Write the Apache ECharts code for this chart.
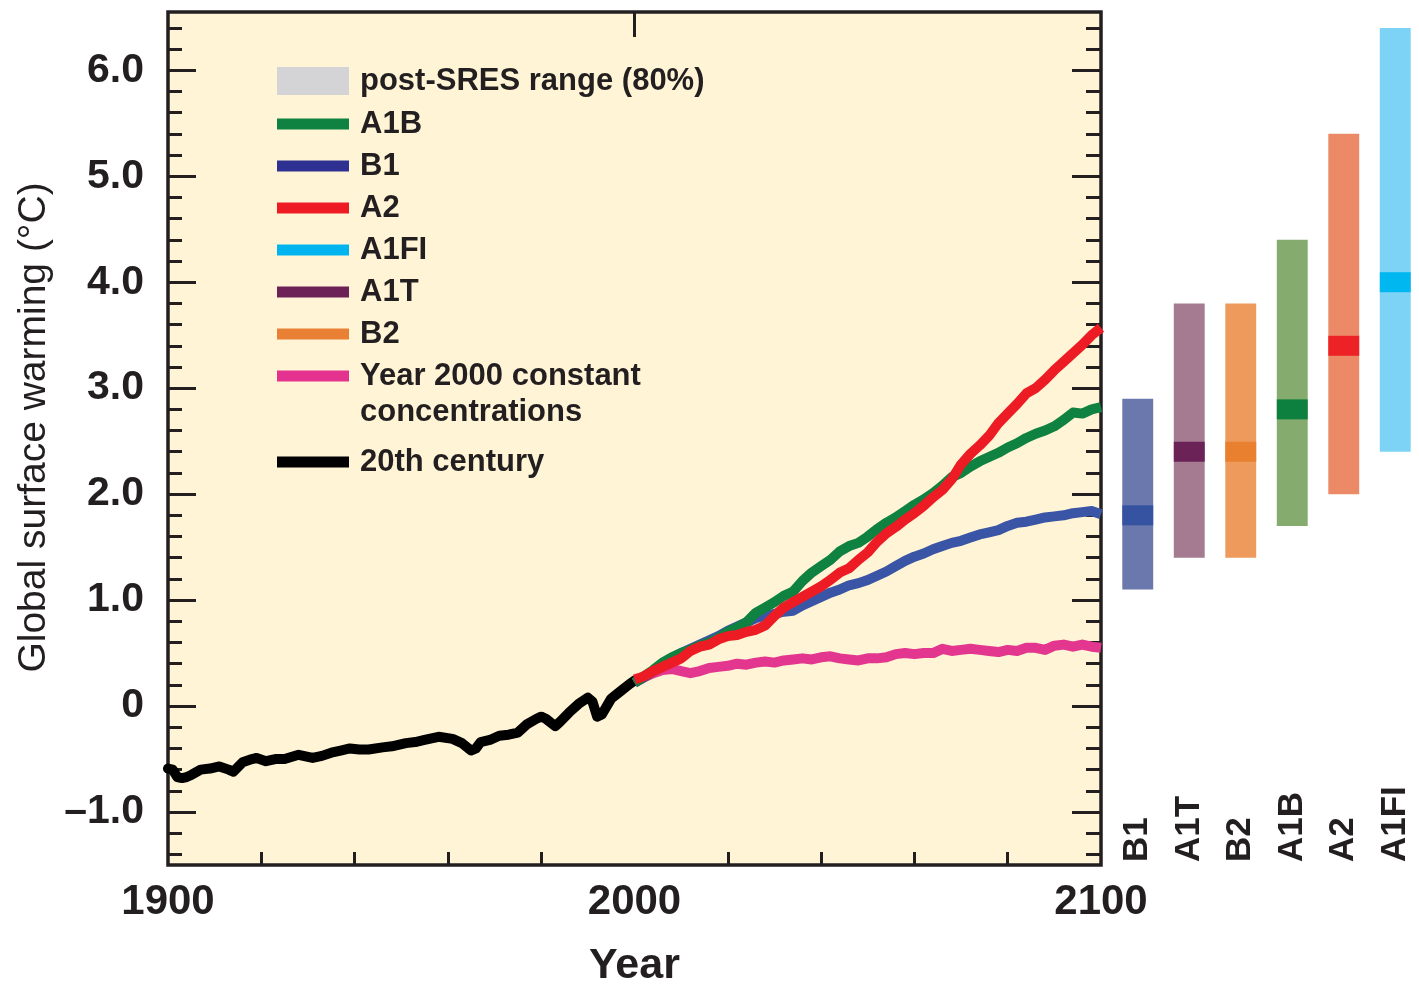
<!DOCTYPE html>
<html><head><meta charset="utf-8">
<script src="https://cdn.jsdelivr.net/npm/echarts@6/dist/echarts.min.js"></script>
<style>html,body{margin:0;padding:0;background:#fff}#c{width:1419px;height:986px}</style>
</head><body><div id="c"></div>
<script>
// ---- 20th century observations ----
const years20 = [1900,1901,1902,1903,1904,1905,1907,1909,1911,1913,1914,1916,1918,1919,1921,1923,1925,1928,1931,1933,1935,1937,1939,1941,1943,1946,1948,1951,1953,1955,1958,1961,1963,1965,1966,1967,1969,1971,1973,1975,1977,1979,1980,1981,1983,1984,1986,1988,1990,1991,1992,1993,1995,1997,1999,2000];
const temp20 = [-0.59,-0.60,-0.67,-0.68,-0.67,-0.65,-0.60,-0.59,-0.57,-0.60,-0.62,-0.53,-0.50,-0.49,-0.52,-0.50,-0.50,-0.46,-0.49,-0.47,-0.44,-0.42,-0.40,-0.41,-0.41,-0.39,-0.38,-0.35,-0.34,-0.32,-0.29,-0.31,-0.35,-0.42,-0.40,-0.34,-0.32,-0.28,-0.27,-0.25,-0.17,-0.12,-0.10,-0.12,-0.19,-0.15,-0.06,0.02,0.08,0.04,-0.10,-0.08,0.07,0.14,0.21,0.24];

// ---- 21st century projections (multi-model means) ----
const yearsFuture = [2000,2002,2004,2006,2008,2010,2012,2014,2016,2018,2020,2022,2024,2026,2028,2030,2032,2034,2036,2038,2040,2042,2044,2046,2048,2050,2052,2054,2056,2058,2060,2062,2064,2066,2068,2070,2072,2074,2076,2078,2080,2082,2084,2086,2088,2090,2092,2094,2096,2098,2100];
const a2 = [0.25,0.28,0.33,0.37,0.41,0.45,0.52,0.56,0.58,0.63,0.66,0.67,0.70,0.72,0.76,0.85,0.93,0.98,1.03,1.08,1.13,1.19,1.26,1.30,1.38,1.45,1.55,1.63,1.69,1.76,1.82,1.89,1.97,2.04,2.14,2.28,2.38,2.46,2.55,2.67,2.76,2.85,2.95,3.00,3.08,3.17,3.25,3.33,3.41,3.50,3.57];
const a1b = [0.22,0.28,0.34,0.41,0.46,0.50,0.53,0.57,0.60,0.64,0.70,0.74,0.79,0.88,0.93,0.98,1.04,1.08,1.18,1.26,1.32,1.38,1.46,1.51,1.54,1.60,1.67,1.73,1.78,1.84,1.90,1.95,2.01,2.08,2.16,2.20,2.26,2.31,2.35,2.39,2.44,2.48,2.53,2.57,2.60,2.64,2.70,2.77,2.76,2.80,2.82];
const b1 = [0.22,0.27,0.33,0.39,0.45,0.50,0.54,0.58,0.62,0.66,0.71,0.75,0.79,0.83,0.85,0.87,0.89,0.90,0.95,0.99,1.03,1.07,1.10,1.14,1.16,1.19,1.23,1.27,1.32,1.37,1.41,1.44,1.48,1.51,1.54,1.56,1.59,1.62,1.64,1.66,1.70,1.73,1.74,1.76,1.78,1.79,1.80,1.82,1.83,1.84,1.81];
const commit = [0.22,0.27,0.31,0.34,0.35,0.33,0.31,0.33,0.36,0.37,0.38,0.40,0.39,0.41,0.42,0.41,0.43,0.44,0.45,0.44,0.46,0.47,0.45,0.44,0.43,0.45,0.45,0.46,0.49,0.50,0.49,0.50,0.50,0.54,0.52,0.53,0.54,0.53,0.52,0.51,0.53,0.52,0.55,0.55,0.53,0.57,0.58,0.56,0.58,0.56,0.55];

// ---- 2090-2099 likely ranges and best estimates ----
const scenarios = ['B1','A1T','B2','A1B','A2','A1FI'];
const rangeLow  = [1.1,1.4,1.4,1.7,2.0,2.4];
const rangeHigh = [2.9,3.8,3.8,4.4,5.4,6.4];
const bestEst   = [1.8,2.4,2.4,2.8,3.4,4.0];

// ---- ticks ----
const yMajorTicks = [-1,0,1,2,3,4,5,6];
const yMinorTicks = [-1.4,-1.2,-0.8,-0.6,-0.4,-0.2,0.2,0.4,0.6,0.8,1.2,1.4,1.6,1.8,2.2,2.4,2.6,2.8,3.2,3.4,3.6,3.8,4.2,4.4,4.6,4.8,5.2,5.4,5.6,5.8,6.2,6.4];
const xLabelTicks = [1900,2000,2100];
const xMinorTicks = [1920,1940,1960,1980,2020,2040,2060,2080];
const xMajorTicks = [2000];

const lightColors = ['#6b78ad','#a57b92','#ee9a5c','#85ab6f','#ec8a68','#7dd3f6'];
const darkColors  = ['#3553a0','#6b2357','#e9802f','#0d7f3f','#ec2227','#00b7ef'];

const INK = '#231f20';
const FONT = 'Liberation Sans';
const Y_MIN = -1.5, Y_MAX = 6.55;

const pairs = (xs, ys) => xs.map((x, i) => [x, ys[i]]);

const chart = echarts.init(document.getElementById('c'));

function yAx(pos, ticks, len, withLabels) {
  return {
    type: 'value', gridIndex: 0, position: pos, min: Y_MIN, max: Y_MAX,
    axisLine: {show: false, onZero: false},
    splitLine: {show: false},
    axisTick: {show: true, inside: true, length: len, customValues: ticks, lineStyle: {color: INK, width: 3}},
    axisLabel: withLabels ? {
      show: true, customValues: yMajorTicks, margin: 24,
      fontFamily: FONT, fontWeight: 'bold', fontSize: 41, color: INK,
      formatter: v => v === 0 ? '0' : (v < 0 ? '\u2013' + Math.abs(v).toFixed(1) : v.toFixed(1))
    } : {show: false}
  };
}

const legendBase = {
  orient: 'vertical', left: 277, itemWidth: 72, itemGap: 8, padding: 0,
  selectedMode: false, icon: 'rect',
  textStyle: {fontFamily: FONT, fontWeight: 'bold', fontSize: 31, color: INK, lineHeight: 34, padding: [0,0,0,6]}
};

const yNameAxis = yAx('left', yMajorTicks, 28, true);
yNameAxis.name = 'Global surface warming (\u00B0C)';
yNameAxis.nameLocation = 'middle';
yNameAxis.nameGap = 114;
yNameAxis.nameTextStyle = {fontFamily: FONT, fontSize: 39, color: INK, padding: [0,0,0,22]};

const option = {
  backgroundColor: '#ffffff',
  animation: false,
  grid: [
    {left: 168, top: 12, width: 933, height: 853, show: true, backgroundColor: '#fff5d6', borderColor: INK, borderWidth: 3.5, outerBoundsMode: 'none', containLabel: false},
    {left: 1112, top: 12, width: 309, height: 853, show: false, outerBoundsMode: 'none', containLabel: false}
  ],
  xAxis: [
    {
      type: 'value', gridIndex: 0, min: 1900, max: 2100,
      axisLine: {show: false, onZero: false}, splitLine: {show: false},
      axisTick: {show: true, inside: true, length: 13, customValues: xMinorTicks, lineStyle: {color: INK, width: 3}},
      axisLabel: {show: true, customValues: xLabelTicks, margin: 16, formatter: v => String(v),
        fontFamily: FONT, fontWeight: 'bold', fontSize: 42, color: INK},
      name: 'Year', nameLocation: 'middle', nameGap: 80,
      nameTextStyle: {fontFamily: FONT, fontWeight: 'bold', fontSize: 43, color: INK}
    },
    {
      type: 'value', gridIndex: 0, min: 1900, max: 2100,
      axisLine: {show: false, onZero: false}, splitLine: {show: false},
      axisTick: {show: true, inside: true, length: 25, customValues: xMajorTicks, lineStyle: {color: INK, width: 3}},
      axisLabel: {show: false}
    },
    {
      type: 'category', gridIndex: 1, data: scenarios, boundaryGap: true,
      axisLine: {show: false, onZero: false}, axisTick: {show: false}, splitLine: {show: false},
      axisLabel: {show: true, inside: true, rotate: 90, margin: 3, interval: 0,
        fontFamily: FONT, fontWeight: 'bold', fontSize: 35, color: INK}
    }
  ],
  yAxis: [
    yNameAxis,
    yAx('left', yMinorTicks, 14, false),
    yAx('right', yMajorTicks, 29, false),
    yAx('right', yMinorTicks, 15, false),
    {type: 'value', gridIndex: 1, min: Y_MIN, max: Y_MAX, show: false}
  ],
  legend: [
    Object.assign({}, legendBase, {top: 64, itemHeight: 28, data: ['post-SRES range (80%)']}),
    Object.assign({}, legendBase, {top: 107, itemHeight: 11,
      data: ['A1B','B1','A2','A1FI','A1T','B2','Year 2000 constant concentrations'],
      formatter: n => n === 'Year 2000 constant concentrations' ? 'Year 2000 constant' : n}),
    Object.assign({}, legendBase, {top: 445, itemHeight: 11, data: ['20th century']})
  ],
  graphic: [
    {type: 'text', left: 360, top: 397, silent: true,
     style: {text: 'concentrations', font: 'bold 31px "Liberation Sans"', fill: INK}}
  ],
  series: [
    {name: 'post-SRES range (80%)', type: 'line', data: [], itemStyle: {color: '#d4d4d6'}},
    {name: 'A1FI', type: 'line', data: [], itemStyle: {color: '#00b5ef'}},
    {name: 'A1T', type: 'line', data: [], itemStyle: {color: '#6c2157'}},
    {name: 'B2', type: 'line', data: [], itemStyle: {color: '#ea8034'}},
    {name: '20th century', type: 'line', xAxisIndex: 0, yAxisIndex: 0, data: pairs(years20, temp20),
     showSymbol: false, itemStyle: {color: '#000000'}, lineStyle: {color: '#000000', width: 10, join: 'round', cap: 'round'}, z: 3},
    {name: 'Year 2000 constant concentrations', type: 'line', xAxisIndex: 0, yAxisIndex: 0, data: pairs(yearsFuture, commit),
     showSymbol: false, itemStyle: {color: '#e3338e'}, lineStyle: {color: '#e2368f', width: 10, join: 'round'}, z: 4},
    {name: 'B1', type: 'line', xAxisIndex: 0, yAxisIndex: 0, data: pairs(yearsFuture, b1),
     showSymbol: false, itemStyle: {color: '#2e3192'}, lineStyle: {color: '#3b55a6', width: 10, join: 'round'}, z: 5},
    {name: 'A1B', type: 'line', xAxisIndex: 0, yAxisIndex: 0, data: pairs(yearsFuture, a1b),
     showSymbol: false, itemStyle: {color: '#0f8140'}, lineStyle: {color: '#0f8140', width: 10, join: 'round'}, z: 6},
    {name: 'A2', type: 'line', xAxisIndex: 0, yAxisIndex: 0, data: pairs(yearsFuture, a2),
     showSymbol: false, itemStyle: {color: '#ed1c24'}, lineStyle: {color: '#ed1c24', width: 10, join: 'round'}, z: 7},
    {
      name: 'ranges', type: 'custom', xAxisIndex: 2, yAxisIndex: 4,
      data: scenarios.map((s, i) => [i, rangeLow[i], rangeHigh[i], bestEst[i]]),
      encode: {x: 0, y: [1, 2, 3]},
      renderItem: function (params, api) {
        const i = api.value(0);
        const lo = api.coord([i, api.value(1)]);
        const hi = api.coord([i, api.value(2)]);
        const mid = api.coord([i, api.value(3)]);
        const w = api.size([1, 0])[0] * 0.6;
        const k = params.dataIndex;
        return {type: 'group', children: [
          {type: 'rect', shape: {x: lo[0] - w / 2, y: hi[1], width: w, height: lo[1] - hi[1]}, style: {fill: lightColors[k]}},
          {type: 'rect', shape: {x: lo[0] - w / 2, y: mid[1] - 10, width: w, height: 20}, style: {fill: darkColors[k]}}
        ]};
      }
    }
  ]
};
chart.setOption(option);
</script>
</body></html>
